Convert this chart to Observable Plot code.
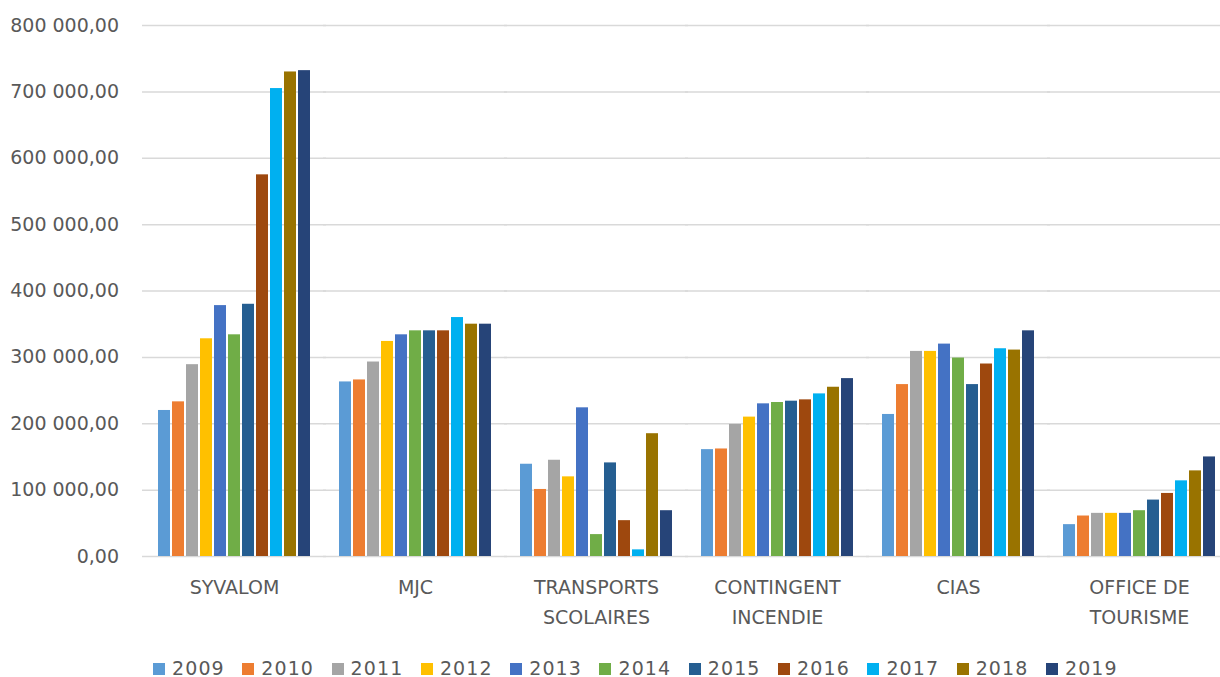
<!DOCTYPE html>
<html>
<head>
<meta charset="utf-8">
<script src="https://cdn.jsdelivr.net/npm/d3@7"></script>
<script src="https://cdn.jsdelivr.net/npm/@observablehq/plot@0.6"></script>
<style>
  html, body { margin: 0; padding: 0; background: #fff; overflow: hidden; width: 1220px; height: 677px; }
  #chart { position: absolute; left: 0; top: 0; width: 1230px; }
  #legend { position: absolute; left: 153px; top: 659px; display: flex; font-family: "DejaVu Sans"; font-size: 19px; letter-spacing: 1.1px; color: #595959; line-height: 19px; }
  .item { display: flex; align-items: center; width: 89.3px; }
  .sw { width: 12px; height: 12px; margin-right: 7px; }
</style>
</head>
<body>
<div id="chart"></div>
<div id="legend"></div>
<script>
const categories = ["SYVALOM", "MJC", "TRANSPORTS SCOLAIRES", "CONTINGENT INCENDIE", "CIAS", "OFFICE DE TOURISME"];
const categoryLabels = ["SYVALOM", "MJC", "TRANSPORTS\nSCOLAIRES", "CONTINGENT\nINCENDIE", "CIAS", "OFFICE DE\nTOURISME"];
const years = ["2009", "2010", "2011", "2012", "2013", "2014", "2015", "2016", "2017", "2018", "2019"];
const colors = ["#5B9BD5", "#ED7D31", "#A5A5A5", "#FFC000", "#4472C4", "#70AD47", "#255E91", "#9E480E", "#00B0F0", "#997300", "#264478"];
const yTicks = [0, 100000, 200000, 300000, 400000, 500000, 600000, 700000, 800000];

const syvalom     = [220000, 233000, 289000, 328000, 378000, 334000, 380000, 575000, 705000, 730000, 732000];
const mjc         = [263000, 266000, 293000, 324000, 334000, 340000, 340000, 340000, 360000, 350000, 350000];
const transports  = [139000, 101000, 145000, 120000, 224000, 33000, 141000, 54000, 10000, 185000, 69000];
const contingent  = [161000, 162000, 199000, 210000, 230000, 232000, 234000, 236000, 245000, 255000, 268000];
const cias        = [214000, 259000, 309000, 309000, 320000, 299000, 259000, 290000, 313000, 311000, 340000];
const office      = [48000, 61000, 65000, 65000, 65000, 69000, 85000, 95000, 114000, 129000, 150000];

const series = [syvalom, mjc, transports, contingent, cias, office];
const data = categories.flatMap((c, i) => years.map((y, j) => ({cat: c, year: y, value: series[i][j]})));

const fr = d3.formatLocale({decimal: ",", thousands: " ", grouping: [3], currency: ["", ""]}).format(",.2f");

const chart = Plot.plot({
  width: 1230,
  height: 640,
  marginLeft: 143,
  marginRight: 0,
  marginTop: 25,
  marginBottom: 84,
  style: {fontFamily: "DejaVu Sans", color: "#595959", background: "#fff", maxWidth: "none", overflow: "visible"},
  fx: {domain: categories, paddingInner: 0.14, paddingOuter: 0.07, label: null},
  x: {domain: years, paddingInner: 0.15, paddingOuter: 0, axis: null},
  y: {domain: [0, 800000]},
  color: {domain: years, range: colors},
  marks: [
    Plot.gridY(yTicks, {stroke: "#d9d9d9", strokeOpacity: 1, strokeWidth: 1.5, insetLeft: -14, insetRight: -14}),
    Plot.barY(data, {fx: "cat", x: "year", y: "value", fill: "year"}),
    Plot.axisY(yTicks, {tickSize: 0, tickPadding: 37.5, tickFormat: fr, fontSize: 19, label: null}),
    Plot.axisFx({anchor: "bottom", tickSize: 0, tickPadding: 16, fontSize: 19, lineHeight: 1.58, label: null,
      tickFormat: d => categoryLabels[categories.indexOf(d)]})
  ]
});
document.getElementById("chart").appendChild(chart);

const legend = document.getElementById("legend");
years.forEach((y, i) => {
  const it = document.createElement("div");
  it.className = "item";
  const sw = document.createElement("span");
  sw.className = "sw";
  sw.style.background = colors[i];
  const t = document.createElement("span");
  t.textContent = y;
  it.appendChild(sw);
  it.appendChild(t);
  legend.appendChild(it);
});
</script>
</body>
</html>
